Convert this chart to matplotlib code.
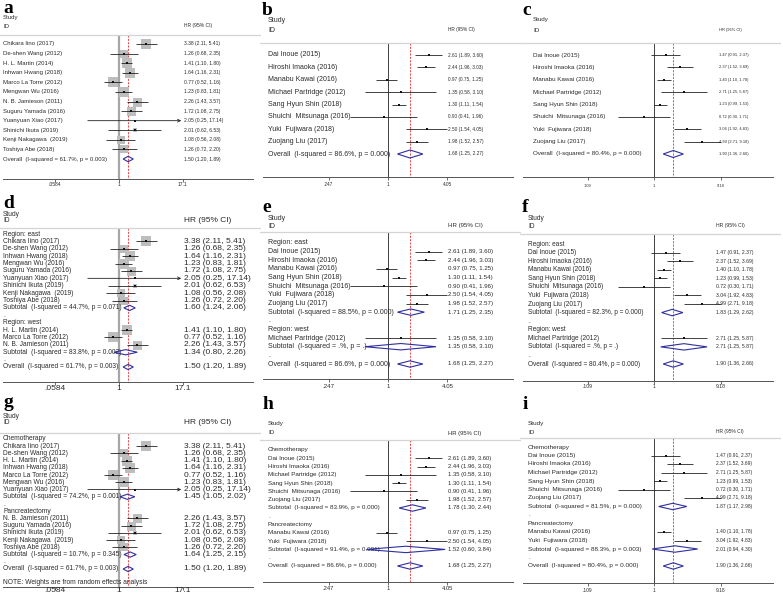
import numpy as np
import matplotlib.pyplot as plt

plt.rcParams['font.family'] = ['Liberation Sans', 'DejaVu Sans']

# ---- study level data (HR and 95% CI) ----
a_names = ["Chikara Iino (2017)", "De-shen Wang (2012)", "H. L. Martin (2014)",
           "Inhwan Hwang (2018)", "Marco La Torre (2012)", "Mengwan Wu (2016)",
           "N. B. Jamieson (2011)", "Suguru Yamada (2016)", "Yuanyuan Xiao (2017)",
           "Shinichi Ikuta (2019)", "Kenji Nakagawa  (2019)", "Toshiya Abe (2018)"]
a_hr = [3.38, 1.26, 1.41, 1.64, 0.77, 1.23, 2.26, 1.72, 2.05, 2.01, 1.08, 1.26]
a_lo = [2.11, 0.68, 1.10, 1.16, 0.52, 0.83, 1.43, 1.08, 0.25, 0.62, 0.56, 0.72]
a_hi = [5.41, 2.35, 1.80, 2.31, 1.16, 1.81, 3.57, 2.75, 17.14, 6.53, 2.08, 2.20]
a_wt = [12.5, 7.5, 11.5, 11.5, 11.0, 11.0, 9.0, 9.0, 0.4, 2.5, 6.0, 7.5]

bc_names = ["Dai Inoue (2015)", "Hiroshi Imaoka (2016)", "Manabu Kawai (2016)",
            "Michael Partridge (2012)", "Sang Hyun Shin (2018)", "Shuichi  Mitsunaga (2016)",
            "Yuki  Fujiwara (2018)", "Zuojang Liu (2017)"]
b_hr = [2.61, 2.44, 0.97, 1.35, 1.30, 0.90, 2.50, 1.98]
b_lo = [1.89, 1.96, 0.75, 0.58, 1.11, 0.41, 1.54, 1.52]
b_hi = [3.60, 3.03, 1.25, 3.10, 1.54, 1.96, 4.05, 2.57]
c_hr = [1.47, 2.37, 1.40, 2.71, 1.23, 0.72, 3.04, 4.99]
c_lo = [0.91, 1.52, 1.10, 1.25, 0.99, 0.30, 1.92, 2.71]
c_hi = [2.37, 3.69, 1.78, 5.87, 1.53, 1.71, 4.83, 9.18]

# pooled results: (I-squared, p, HR, lo, hi)
a_overall = ("61.7%", "0.003", 1.50, 1.20, 1.89)
b_overall = ("86.6%", "0.000", 1.68, 1.25, 2.27)
c_overall = ("80.4%", "0.000", 1.90, 1.36, 2.66)

# subgroups (indices into the study lists)
region_groups = ["Region: east", "Region: west"]
treat_groups = ["Chemotherapy", "Pancreatectomy"]
d_members = [[0, 1, 3, 5, 7, 8, 9, 10, 11], [2, 4, 6]]
ef_members = [[0, 1, 2, 4, 5, 6, 7], [3]]
g_members = [[0, 1, 2, 3, 4, 5, 8], [6, 7, 9, 10, 11]]
hi_members = [[0, 1, 3, 4, 5, 7], [2, 6]]
d_sub = [("44.7%", "0.071", 1.60, 1.24, 2.06), ("83.8%", "0.002", 1.34, 0.80, 2.26)]
e_sub = [("88.5%", "0.000", 1.71, 1.25, 2.35), (".%", ".", 1.35, 0.58, 3.10)]
f_sub = [("82.3%", "0.000", 1.83, 1.29, 2.62), (".%", ".", 2.71, 1.25, 5.87)]
g_sub = [("74.2%", "0.001", 1.45, 1.05, 2.02), ("10.7%", "0.345", 1.64, 1.25, 2.15)]
h_sub = [("83.9%", "0.000", 1.78, 1.30, 2.44), ("91.4%", "0.001", 1.52, 0.60, 3.84)]
i_sub = [("81.5%", "0.000", 1.87, 1.17, 2.98), ("88.3%", "0.003", 2.01, 0.94, 4.30)]

# axis scale per column: ticks, pixel of HR=1, pixels per ln unit
col_a = dict(ticks=[0.0584, 1, 17.1], labels=[".0584", "1", "17.1"], one=119, ppl=22.5)
col_b = dict(ticks=[0.247, 1, 4.05], labels=[".247", "1", "4.05"], one=128, ppl=42.5)
col_c = dict(ticks=[0.109, 1, 9.18], labels=[".109", "1", "9.18"], one=134, ppl=30.0)

W, H = 783, 593


def study_rows(names, hr, lo, hi, wt, idx):
    return [dict(kind="study", label=names[i], hr=hr[i], lo=lo[i], hi=hi[i],
                 w=None if wt is None else wt[i]) for i in idx]


def pooled_row(kind, stats):
    name = "Subtotal" if kind == "sub" else "Overall"
    lab = "%s  (I-squared = %s, p = %s)" % (name, stats[0], stats[1])
    return dict(kind=kind, label=lab, hr=stats[2], lo=stats[3], hi=stats[4])


def plain_rows(names, hr, lo, hi, wt, overall):
    rows = study_rows(names, hr, lo, hi, wt, range(len(names)))
    rows.append(pooled_row("overall", overall))
    return rows


def group_rows(groups, members, subs, names, hr, lo, hi, wt, overall):
    rows = []
    for g, m, s in zip(groups, members, subs):
        rows.append(dict(kind="head", label=g))
        rows += study_rows(names, hr, lo, hi, wt, m)
        rows.append(pooled_row("sub", s))
        rows.append(dict(kind="blank", label="."))
    rows.append(pooled_row("overall", overall))
    return rows


def draw_panel(fig, letter, px, py, ph, rows, col, lay):
    pw = 261
    ax = fig.add_axes([px / W, 1 - (py + ph) / H, pw / W, ph / H])
    ax.set_xscale('log')
    ax.set_xlim(np.exp(-col['one'] / col['ppl']), np.exp((pw - col['one']) / col['ppl']))
    ax.set_ylim(ph, 0)
    ax.axis('off')
    tr = ax.get_yaxis_transform()
    tc = '#2b2b2b'
    fl, fh = lay['fl'], lay['fh']
    lx, hx = lay['lx'] / pw, lay['hx'] / pw

    # panel letter
    fig.text((px + lay['letx']) / W, 1 - (py + lay['letb']) / H, letter, fontsize=14,
             fontweight='bold', family='Liberation Serif', va='baseline', ha='left')

    ax.text(lx, lay['study'], "Study", transform=tr, fontsize=fl, va='center', color=tc)
    ax.text(lx, lay['id'], "ID", transform=tr, fontsize=fl, va='center', color=tc)
    ax.text(hx, lay['id'], "HR (95% CI)", transform=tr, fontsize=fh, va='center', color=tc)
    ax.plot([0, 1], [lay['line']] * 2, transform=tr, color='#d4d4d4', lw=0.9)
    ax.plot([0.01, 0.97], [lay['axis']] * 2, transform=tr, color='#555555', lw=0.7)
    ax.vlines(col['ticks'], lay['axis'], lay['axis'] + 2.5, color='#555555', lw=0.6)
    for t, lab in zip(col['ticks'], col['labels']):
        ax.text(t, lay['tick'], lab, fontsize=lay['ft'], ha='center', va='center', color=tc)

    # line of no effect
    if lay['box']:
        ax.vlines(1, lay['line'], lay['axis'], color='#a6a6a6', lw=1.6, zorder=1)
    else:
        ax.vlines(1, lay['line'], lay['axis'], color='#222222', lw=0.6, zorder=1)

    ys = np.linspace(lay['first'], lay['last'], len(rows))
    tmax = col['ticks'][-1]
    for r, y in zip(rows, ys):
        ax.text(lx, y, r['label'], transform=tr, fontsize=fl, va='center', color=tc)
        if r['kind'] in ("head", "blank"):
            continue
        ax.text(hx, y, "%.2f (%.2f, %.2f)" % (r['hr'], r['lo'], r['hi']), transform=tr,
                fontsize=fh, va='center', color=tc)
        if r['kind'] == "study":
            if lay['box'] and r['w'] is not None:
                side = lay['bk'] * np.sqrt(r['w']) * 0.72
                ax.scatter([r['hr']], [y], marker='s', s=side ** 2, color='#bdbdbd',
                           linewidths=0, zorder=2)
            if r['hi'] > tmax:
                ax.annotate("", xy=(tmax * 0.93, y), xytext=(r['lo'], y),
                            arrowprops=dict(arrowstyle='->', lw=0.6, color='#222222',
                                            shrinkA=0, shrinkB=0, mutation_scale=5),
                            zorder=3)
            else:
                ax.hlines(y, r['lo'], r['hi'], color='#222222', lw=0.6, zorder=3)
            ax.plot([r['hr']], [y], 's', color='#111111', ms=lay['ms'], mew=0, zorder=4)
        else:
            dh = lay['dh']
            ax.fill([r['lo'], r['hr'], r['hi'], r['hr']], [y, y - dh, y, y + dh],
                    fill=False, edgecolor='#2f2fa0', lw=0.8, zorder=3)
        if r['kind'] == "overall":
            ax.vlines(r['hr'], lay['line'], lay['axis'], color='#e03030', lw=0.6,
                      linestyles=(0, (2.5, 1.5)), zorder=1.5)
    if 'note' in lay:
        ax.text(lx, lay['note'], "NOTE: Weights are from random effects analysis",
                transform=tr, fontsize=fl, va='center', color=tc)


fig = plt.figure(figsize=(W / 100, H / 100), dpi=100)

rows_a = plain_rows(a_names, a_hr, a_lo, a_hi, a_wt, a_overall)
rows_b = plain_rows(bc_names, b_hr, b_lo, b_hi, None, b_overall)
rows_c = plain_rows(bc_names, c_hr, c_lo, c_hi, None, c_overall)
rows_d = group_rows(region_groups, d_members, d_sub, a_names, a_hr, a_lo, a_hi, a_wt, a_overall)
rows_e = group_rows(region_groups, ef_members, e_sub, bc_names, b_hr, b_lo, b_hi, None, b_overall)
rows_f = group_rows(region_groups, ef_members, f_sub, bc_names, c_hr, c_lo, c_hi, None, c_overall)
rows_g = group_rows(treat_groups, g_members, g_sub, a_names, a_hr, a_lo, a_hi, a_wt, a_overall)
rows_h = group_rows(treat_groups, hi_members, h_sub, bc_names, b_hr, b_lo, b_hi, None, b_overall)
rows_i = group_rows(treat_groups, hi_members, i_sub, bc_names, c_hr, c_lo, c_hi, None, c_overall)

lay_a = dict(letx=3, letb=13, study=17, id=26, line=35, first=44, last=159, axis=179, tick=185,
             lx=3, hx=184, fl=4.3, fh=3.6, ft=3.6, box=True, bk=3.0, ms=1.6, dh=2.7)
lay_b = dict(letx=2, letb=15, study=20, id=30, line=43, first=55, last=154, axis=177, tick=185,
             lx=8, hx=188, fl=5.0, fh=3.4, ft=3.4, box=False, ms=2.0, dh=4.0)
lay_c = dict(letx=2, letb=15, study=20, id=30, line=43, first=55, last=154, axis=177, tick=186,
             lx=13, hx=199, fl=4.5, fh=2.9, ft=2.9, box=False, ms=2.0, dh=3.5)
lay_d = dict(letx=3, letb=13, study=19, id=25, line=33, first=39, last=172, axis=187, tick=193,
             lx=3, hx=184, fl=4.8, fh=6.0, ft=6.0, box=True, bk=3.0, ms=1.6, dh=2.6)
lay_e = dict(letx=2, letb=17, study=23, id=31, line=37, first=48, last=169, axis=184, tick=192,
             lx=8, hx=188, fl=5.0, fh=4.4, ft=4.4, box=False, ms=2.0, dh=3.2)
lay_f = dict(letx=2, letb=17, study=23, id=31, line=39, first=49, last=169, axis=186, tick=192,
             lx=8, hx=196, fl=4.7, fh=3.7, ft=3.7, box=False, ms=2.0, dh=3.2)
lay_g = dict(letx=3, letb=17, study=26, id=33, line=43, first=49, last=179, axis=197, tick=201,
             lx=3, hx=184, fl=4.8, fh=6.0, ft=6.0, box=True, bk=3.0, ms=1.6, dh=2.6, note=192)
lay_h = dict(letx=3, letb=19, study=34, id=43, line=50, first=60, last=176, axis=192, tick=199,
             lx=8, hx=188, fl=4.5, fh=4.2, ft=4.2, box=False, ms=2.0, dh=3.2)
lay_i = dict(letx=3, letb=19, study=33, id=42, line=48, first=57, last=176, axis=193, tick=200,
             lx=8, hx=196, fl=4.6, fh=3.5, ft=3.5, box=False, ms=2.0, dh=3.2)

draw_panel(fig, "a", 0, 0, 195, rows_a, col_a, lay_a)
draw_panel(fig, "b", 260, 0, 195, rows_b, col_b, lay_b)
draw_panel(fig, "c", 520, 0, 195, rows_c, col_c, lay_c)
draw_panel(fig, "d", 0, 195, 195, rows_d, col_a, lay_d)
draw_panel(fig, "e", 260, 195, 195, rows_e, col_b, lay_e)
draw_panel(fig, "f", 520, 195, 195, rows_f, col_c, lay_f)
draw_panel(fig, "g", 0, 390, 203, rows_g, col_a, lay_g)
draw_panel(fig, "h", 260, 390, 203, rows_h, col_b, lay_h)
draw_panel(fig, "i", 520, 390, 203, rows_i, col_c, lay_i)

fig.savefig("out.png", dpi=100)
